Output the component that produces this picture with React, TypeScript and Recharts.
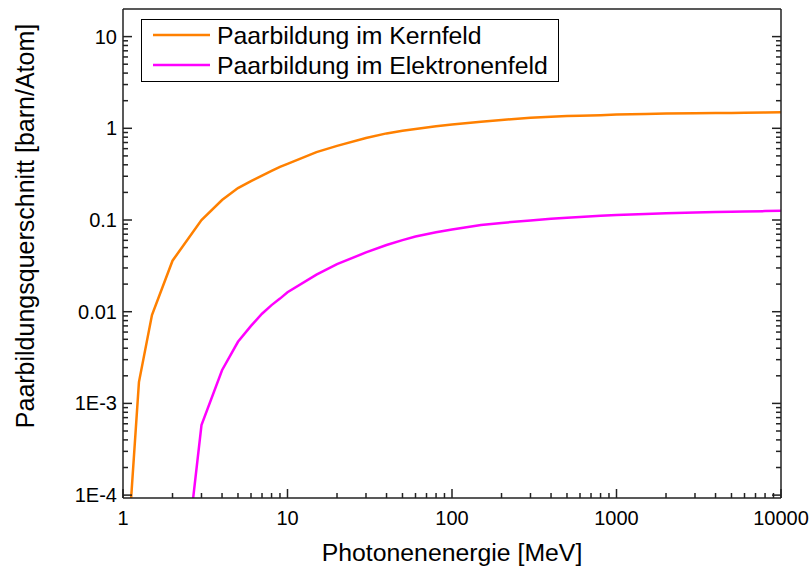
import React from 'react'
import { LineChart, Line, XAxis, YAxis, Legend, ReferenceLine } from 'recharts'

// photon energy grid [MeV] and cross sections [barn/atom]
const ENERGY_KERN = [1.022, 1.25, 1.5, 2, 3, 4, 5, 6, 7, 8, 9, 10, 15, 20, 30, 40, 50, 60, 80, 100, 150, 200, 300, 400, 500, 600, 800, 1000, 1500, 2000, 3000, 4000, 5000, 6000, 8000, 10000]
const KERNFELD = [8e-6, 1.71e-3, 9.2e-3, 0.036, 0.1, 0.165, 0.223, 0.266, 0.305, 0.343, 0.38, 0.41, 0.55, 0.644, 0.785, 0.88, 0.94, 0.98, 1.05, 1.1, 1.18, 1.235, 1.3, 1.34, 1.36, 1.37, 1.39, 1.41, 1.43, 1.45, 1.46, 1.47, 1.47, 1.48, 1.49, 1.5]

const ENERGY_ELEK = [2.044, 3, 4, 5, 6, 7, 8, 9, 10, 15, 20, 30, 40, 50, 60, 80, 100, 150, 200, 300, 400, 500, 600, 800, 1000, 1500, 2000, 3000, 4000, 5000, 6000, 8000, 10000]
const ELEKTRONENFELD = [1.4e-6, 5.8e-4, 2.3e-3, 4.7e-3, 7.0e-3, 9.5e-3, 0.0118, 0.0139, 0.0163, 0.0254, 0.033, 0.0443, 0.0534, 0.0604, 0.0662, 0.0734, 0.0789, 0.088, 0.093, 0.099, 0.103, 0.106, 0.108, 0.111, 0.1135, 0.1164, 0.1186, 0.121, 0.122, 0.123, 0.124, 0.125, 0.126]

const X_MAJOR = [1, 10, 100, 1000, 10000]
const X_LABELS = ['1', '10', '100', '1000', '10000']
const Y_MAJOR = [1e-4, 1e-3, 0.01, 0.1, 1, 10]
const Y_LABELS = ['1E-4', '1E-3', '0.01', '0.1', '1', '10']
const X_DOMAIN = [1, 10000]
const Y_DOMAIN = [9.3e-5, 20]

const SERIES = [
  { name: 'Paarbildung im Kernfeld', color: '#ff8000' },
  { name: 'Paarbildung im Elektronenfeld', color: '#ff00ff' },
]

const kernData = ENERGY_KERN.map((e, i) => ({ e, v: KERNFELD[i] }))
const elekData = ENERGY_ELEK.map((e, i) => ({ e, v: ELEKTRONENFELD[i] }))

// major + minor (2..9) ticks per decade
const withMinors = (majors: number[], max: number) => {
  const out: number[] = []
  majors.forEach((m, i) => {
    out.push(m)
    if (i < majors.length - 1) for (let k = 2; k <= 9; k++) if (m * k < max) out.push(m * k)
  })
  return out
}
const X_TICKS = withMinors(X_MAJOR, X_DOMAIN[1])
const Y_TICKS = withMinors(Y_MAJOR, Y_DOMAIN[1])

const FONT = 'Liberation Sans, Arial, sans-serif'
const AXIS = '#222'
const PLOT_L = 123
const PLOT_R = 781
const PLOT_B = 498

const majorIdx = (list: number[], v: number) => list.findIndex((m) => Math.abs(m - v) / m < 1e-6)

const XTick = ({ x, payload }: any) => {
  const i = majorIdx(X_MAJOR, payload.value)
  return (
    <g>
      <line x1={x} x2={x} y1={PLOT_B} y2={PLOT_B - (i >= 0 ? 9 : 5)} stroke={AXIS} strokeWidth={1.5} />
      {i >= 0 && (
        <text x={x} y={PLOT_B + 27} textAnchor="middle" fontSize={20} fontFamily={FONT} fill="#000">
          {X_LABELS[i]}
        </text>
      )}
    </g>
  )
}

const YTickLeft = ({ y, payload }: any) => {
  const i = majorIdx(Y_MAJOR, payload.value)
  return (
    <g>
      <line x1={PLOT_L} x2={PLOT_L + (i >= 0 ? 9 : 5)} y1={y} y2={y} stroke={AXIS} strokeWidth={1.5} />
      {i >= 0 && (
        <text x={117} y={y + 7} textAnchor="end" fontSize={20} fontFamily={FONT} fill="#000">
          {Y_LABELS[i]}
        </text>
      )}
    </g>
  )
}

const YTickRight = ({ y, payload }: any) => {
  const i = majorIdx(Y_MAJOR, payload.value)
  return <line x1={PLOT_R} x2={PLOT_R - (i >= 0 ? 9 : 5)} y1={y} y2={y} stroke={AXIS} strokeWidth={1.5} />
}

const renderLegend = () => (
  <svg width={419} height={64} style={{ display: 'block' }}>
    <rect x={0.5} y={0.5} width={417} height={62} fill="#fff" stroke="#000" strokeWidth={1} />
    {SERIES.map((s, i) => (
      <g key={s.name}>
        <line x1={12} x2={69} y1={16 + i * 30} y2={16 + i * 30} stroke={s.color} strokeWidth={2.5} />
        <text x={76} y={16 + i * 30 + 8.5} fontSize={24.8} fontFamily={FONT} fill="#000">
          {s.name}
        </text>
      </g>
    ))}
  </svg>
)

const YTitle = () => (
  <text x={25} y={226} transform="rotate(-90 25 226)" textAnchor="middle" dominantBaseline="central" fontSize={25} fontFamily={FONT} fill="#000">
    Paarbildungsquerschnitt [barn/Atom]
  </text>
)

const XTitle = () => (
  <text x={452} y={561} textAnchor="middle" fontSize={24.8} fontFamily={FONT} fill="#000">
    Photonenenergie [MeV]
  </text>
)

export default function App() {
  return (
    <div style={{ position: 'absolute', left: 0, top: 0, width: 811, height: 568, background: '#fff' }}>
      <LineChart width={811} height={568} margin={{ top: 9, right: 0, bottom: 0, left: 0 }}>
        <XAxis
          dataKey="e"
          type="number"
          scale="log"
          domain={X_DOMAIN}
          allowDataOverflow
          ticks={X_TICKS}
          interval={0}
          tick={<XTick />}
          tickLine={false}
          axisLine={{ stroke: AXIS, strokeWidth: 1.5 }}
          height={70}
          label={{ content: <XTitle /> }}
        />
        <YAxis
          yAxisId="l"
          type="number"
          scale="log"
          domain={Y_DOMAIN}
          allowDataOverflow
          ticks={Y_TICKS}
          interval={0}
          tick={<YTickLeft />}
          tickLine={false}
          axisLine={{ stroke: AXIS, strokeWidth: 1.5 }}
          width={123}
          label={{ content: <YTitle /> }}
        />
        <YAxis
          yAxisId="r"
          orientation="right"
          type="number"
          scale="log"
          domain={Y_DOMAIN}
          allowDataOverflow
          ticks={Y_TICKS}
          interval={0}
          tick={<YTickRight />}
          tickLine={false}
          axisLine={{ stroke: AXIS, strokeWidth: 1.5 }}
          width={30}
        />
        <ReferenceLine yAxisId="l" y={Y_DOMAIN[1]} stroke={AXIS} strokeWidth={1.5} />
        <Line
          yAxisId="l"
          data={kernData}
          dataKey="v"
          name={SERIES[0].name}
          type="linear"
          stroke={SERIES[0].color}
          strokeWidth={2.5}
          dot={false}
          isAnimationActive={false}
        />
        <Line
          yAxisId="r"
          data={elekData}
          dataKey="v"
          name={SERIES[1].name}
          type="linear"
          stroke={SERIES[1].color}
          strokeWidth={2.5}
          dot={false}
          isAnimationActive={false}
        />
        <Legend
          layout="vertical"
          align="center"
          verticalAlign="middle"
          content={renderLegend}
          wrapperStyle={{ top: 19, left: 141, width: 419, height: 64 }}
        />
      </LineChart>
    </div>
  )
}
